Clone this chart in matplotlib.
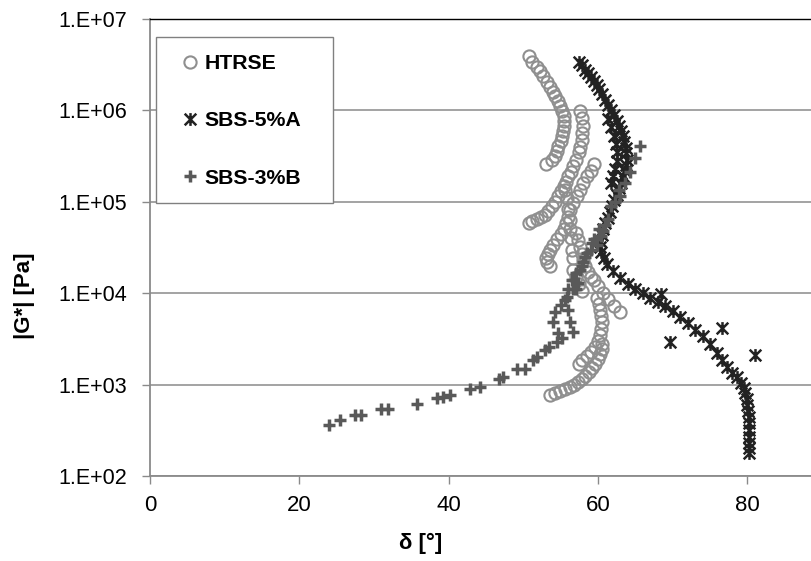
import matplotlib
matplotlib.use('Agg')
from matplotlib import pyplot as plt
from matplotlib.path import Path
from matplotlib.patches import Rectangle

# HTRSE (circles)
htrse_delta = [50.7, 51.2, 51.8, 52.2, 52.7, 53.2, 53.6, 54.0, 54.3, 54.6, 54.9, 55.2, 55.4, 55.5, 55.4, 55.3, 55.2, 55.0, 54.7, 54.5, 54.3, 53.8, 53.1,
               57.6, 57.9, 58.0, 57.9, 57.8, 57.6, 57.4, 57.1, 56.7, 56.4, 56.0, 55.7, 55.4, 55.0, 54.7, 54.3, 53.8, 53.3, 52.9, 52.4, 51.8, 51.2, 50.7,
               59.4, 59.0, 58.5, 58.0, 57.6, 57.2, 56.7, 56.3, 56.0, 55.7, 55.4, 55.0, 54.5, 54.0, 53.6, 53.3, 53.1, 53.2, 53.6,
               55.6, 55.8, 56.0, 56.2, 56.3, 56.4, 56.5, 56.6, 56.7, 57.0, 57.4, 57.8,
               57.0, 57.3, 57.6, 57.8, 58.0, 58.3, 58.6, 59.0,
               59.4, 60.0, 60.7, 61.4, 62.2, 63.0,
               59.8, 60.1, 60.3, 60.4, 60.5, 60.4, 60.3, 60.0, 59.6, 59.1, 58.5, 57.9, 57.4,
               53.6, 54.3, 54.9, 55.6, 56.3, 56.8, 57.3, 57.8, 58.3, 58.8, 59.2, 59.6, 60.0, 60.3, 60.5, 60.6]
htrse_g = [3.9e6, 3.4e6, 3.0e6, 2.7e6, 2.35e6, 2.05e6, 1.8e6, 1.6e6, 1.45e6, 1.28e6, 1.12e6, 9.8e5, 8.7e5, 7.7e5, 6.8e5, 6.0e5, 5.2e5, 4.6e5, 4.1e5, 3.6e5, 3.2e5, 2.9e5, 2.6e5,
           9.8e5, 8.2e5, 6.8e5, 5.6e5, 4.8e5, 4.0e5, 3.5e5, 2.9e5, 2.45e5, 2.1e5, 1.9e5, 1.65e5, 1.48e5, 1.3e5, 1.15e5, 1.0e5, 8.9e4, 7.9e4, 7.2e4, 6.8e4, 6.5e4, 6.1e4, 5.9e4,
           2.6e5, 2.2e5, 1.9e5, 1.6e5, 1.35e5, 1.15e5, 9.8e4, 8.2e4, 6.9e4, 5.9e4, 5.0e4, 4.4e4, 3.9e4, 3.4e4, 3.0e4, 2.7e4, 2.4e4, 2.2e4, 2.0e4,
           1.35e5, 1.1e5, 8.3e4, 6.3e4, 5.0e4, 4.0e4, 3.0e4, 2.4e4, 1.8e4, 1.5e4, 1.25e4, 1.05e4,
           4.5e4, 3.8e4, 3.2e4, 2.7e4, 2.3e4, 2.0e4, 1.7e4, 1.5e4,
           1.4e4, 1.2e4, 1.0e4, 8.6e3, 7.2e3, 6.2e3,
           8.8e3, 7.6e3, 6.5e3, 5.6e3, 4.8e3, 4.1e3, 3.5e3, 3.0e3, 2.6e3, 2.3e3, 2.05e3, 1.85e3, 1.7e3,
           7.7e2, 8.0e2, 8.5e2, 9.0e2, 9.5e2, 1.0e3, 1.07e3, 1.15e3, 1.25e3, 1.38e3, 1.52e3, 1.7e3, 1.9e3, 2.15e3, 2.45e3, 2.8e3]

# SBS-5%A (stars)
sbs5a_delta = [57.4, 57.8, 58.2, 58.6, 59.0, 59.4, 59.8, 60.2, 60.6, 61.0, 61.4, 61.8, 62.2, 62.5, 62.8, 63.1, 63.3, 63.5, 63.7, 63.8,
               63.9, 63.8, 63.6, 63.4, 63.1, 62.8, 62.5, 62.2, 61.9, 61.6, 61.3, 61.0, 60.7, 60.5, 60.3, 60.3, 60.4, 60.8, 61.2, 62.0,
               63.0, 64.0, 65.0, 66.0, 67.0, 68.0, 69.0, 70.0, 71.0, 72.0, 73.0, 74.0, 75.0, 75.9, 76.6, 77.3, 78.0, 78.6, 79.1, 79.5,
               79.7, 79.9, 80.0, 80.1, 80.2, 80.2, 80.2, 80.2, 80.2, 80.2, 80.2,
               61.4, 61.8, 62.2, 62.4, 62.5, 62.5, 62.3, 62.0, 61.7,
               69.6, 76.6, 81.0, 68.5]
sbs5a_g = [3.4e6, 3.1e6, 2.8e6, 2.55e6, 2.3e6, 2.1e6, 1.9e6, 1.7e6, 1.5e6, 1.3e6, 1.15e6, 1.0e6, 8.8e5, 7.7e5, 6.8e5, 6.0e5, 5.2e5, 4.5e5, 3.9e5, 3.4e5,
           2.9e5, 2.5e5, 2.2e5, 1.9e5, 1.6e5, 1.4e5, 1.2e5, 1.05e5, 9.0e4, 7.8e4, 6.7e4, 5.8e4, 5.0e4, 4.3e4, 3.7e4, 3.2e4, 2.8e4, 2.45e4, 2.1e4, 1.75e4,
           1.45e4, 1.25e4, 1.12e4, 1.0e4, 8.9e3, 8.0e3, 7.2e3, 6.4e3, 5.5e3, 4.7e3, 4.0e3, 3.4e3, 2.8e3, 2.2e3, 1.85e3, 1.55e3, 1.35e3, 1.2e3, 1.05e3, 9.2e2,
           8.0e2, 7.0e2, 6.0e2, 5.1e2, 4.4e2, 3.8e2, 3.2e2, 2.7e2, 2.3e2, 2.0e2, 1.8e2,
           8.0e5, 6.5e5, 5.3e5, 4.3e5, 3.5e5, 2.8e5, 2.3e5, 1.9e5, 1.6e5,
           2.95e3, 4.2e3, 2.1e3, 9.8e3]

# SBS-3%B (plus)
sbs3b_delta = [24.0, 25.5, 27.4, 28.2, 31.0, 31.9, 35.7, 38.4, 39.3, 40.2, 42.9, 44.2, 46.7, 47.3, 49.2, 50.2, 51.3, 51.8, 52.9, 53.4,
               54.5, 55.2, 54.7, 54.0, 54.3, 56.0, 55.6, 56.7, 56.5, 57.1, 56.7, 56.3, 56.0, 57.1, 56.7, 57.6, 58.0, 58.5, 59.0, 59.4,
               59.8, 60.1, 60.7, 61.4, 61.8, 63.0, 63.6, 64.3, 65.0, 65.6,
               55.0, 55.8, 57.3, 57.8, 58.2, 59.2, 60.4, 61.0, 62.3, 62.8]
sbs3b_g = [3.6e2, 4.1e2, 4.6e2, 4.6e2, 5.4e2, 5.4e2, 6.2e2, 7.2e2, 7.4e2, 7.6e2, 8.9e2, 9.5e2, 1.15e3, 1.2e3, 1.48e3, 1.5e3, 1.86e3, 2.0e3, 2.4e3, 2.6e3,
           2.95e3, 3.2e3, 3.7e3, 4.8e3, 6.2e3, 6.6e3, 8.5e3, 1.1e4, 1.4e4, 1.65e4, 3.8e3, 4.8e3, 1.1e4, 1.1e4, 1.4e4, 1.8e4, 2.2e4, 2.75e4, 3.0e4, 3.9e4,
           3.4e4, 5.0e4, 4.8e4, 6.5e4, 8.9e4, 1.15e5, 1.6e5, 2.1e5, 3.0e5, 4.1e5,
           7.5e3, 9.0e3, 1.3e4, 2.0e4, 2.5e4, 3.5e4, 4.2e4, 5.6e4, 1.0e5, 1.35e5]

series_names = ['HTRSE', 'SBS-5%A', 'SBS-3%B']
y_ticks = [1e2, 1e3, 1e4, 1e5, 1e6, 1e7]
y_labels = ['1.E+02', '1.E+03', '1.E+04', '1.E+05', '1.E+06', '1.E+07']
x_ticks = [0, 20, 40, 60, 80]

# Excel style star marker: an X with a vertical bar
star = Path([(-1, -1), (1, 1), (-1, 1), (1, -1), (0, -1.1), (0, 1.1)],
            [Path.MOVETO, Path.LINETO, Path.MOVETO, Path.LINETO, Path.MOVETO, Path.LINETO])

W, H = 812, 561
fig = plt.figure(figsize=(W / 100, H / 100), dpi=100, facecolor='white')
ax = fig.add_axes([150 / W, 1 - 476 / H, 672 / W, 457 / H])

ax.plot(htrse_delta, htrse_g, linestyle='none', marker='o', ms=8.8, mfc='none',
        mec='#8f8f8f', mew=1.5, label=series_names[0])
ax.plot(sbs5a_delta, sbs5a_g, linestyle='none', marker=star, ms=9.2, mfc='none',
        mec='#222222', mew=1.8, label=series_names[1])
ax.plot(sbs3b_delta, sbs3b_g, linestyle='none', marker='+', ms=9.2,
        mec='#595959', mew=2.5, label=series_names[2])

ax.set_yscale('log')
ax.set_ylim(1e2, 1e7)
ax.set_xlim(0, 90)
ax.set_yticks(y_ticks)
ax.set_yticklabels(y_labels)
ax.minorticks_off()
ax.set_xticks(x_ticks)

ax.grid(axis='y', color='#8a8a8a', linewidth=1.1)
ax.set_axisbelow(True)
for s in ['left', 'bottom']:
    ax.spines[s].set_color('#8a8a8a')
    ax.spines[s].set_linewidth(1.3)
ax.spines['right'].set_visible(False)
ax.spines['top'].set_color('black')
ax.spines['top'].set_linewidth(1.0)

ax.tick_params(axis='y', direction='out', length=5.5, width=1.0, color='#8a8a8a', pad=11,
               labelsize=15.5)
ax.tick_params(axis='x', direction='out', length=5.5, width=1.0, color='#8a8a8a', pad=8,
               labelsize=16)
for lab in ax.get_yticklabels():
    lab.set_family('Liberation Sans')
for lab in ax.get_xticklabels():
    lab.set_family(['Liberation Sans Narrow', 'Liberation Sans'])

fig.text(25 / W, 1 - 296 / H, '|G*| [Pa]', rotation=90, ha='center', va='center',
         fontsize=16, fontweight='bold', family='Liberation Sans')
fig.text(421 / W, 1 - 543 / H, 'δ [°]', ha='center', va='center',
         fontsize=16, fontweight='bold', family=['Liberation Sans Narrow', 'Liberation Sans'])

# legend box drawn separately so its size can follow the reference
box = Rectangle((156 / W, 1 - 203 / H), 177 / W, 166 / H, transform=fig.transFigure,
                facecolor='white', edgecolor='#808080', linewidth=1.0, zorder=5, clip_on=False)
ax.add_patch(box)
leg = ax.legend(loc='upper left', bbox_to_anchor=(6 / 672, 1 - 18 / 457), borderaxespad=0,
                frameon=False,
                prop={'family': 'Liberation Sans', 'weight': 'bold', 'size': 15.3},
                labelspacing=1.8, borderpad=0.8, handlelength=1.6, handletextpad=-0.1)
leg.set_zorder(6)

fig.savefig('out.png', dpi=100, facecolor='white')
